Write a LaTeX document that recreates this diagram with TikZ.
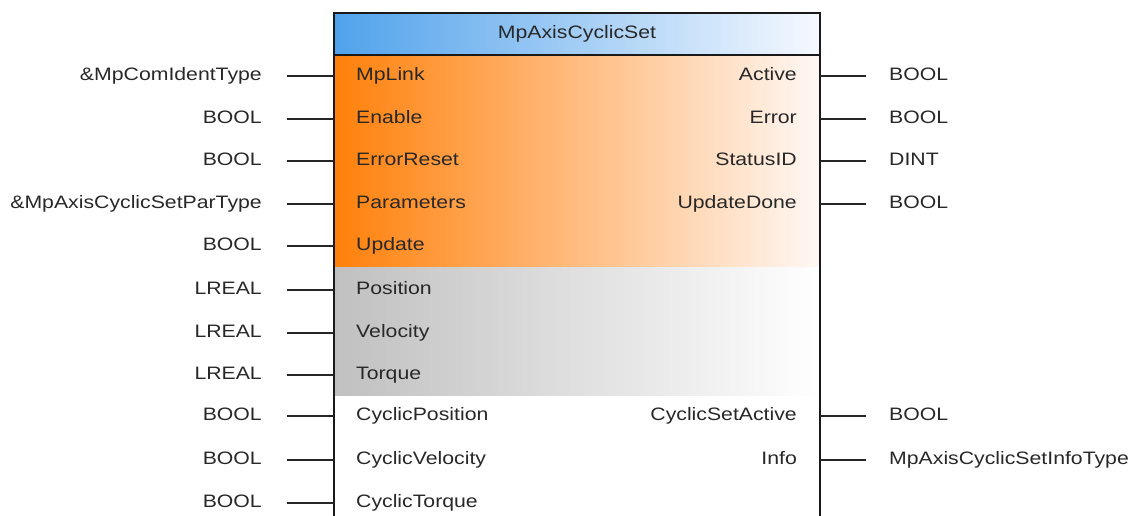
\documentclass[tikz,border=0pt]{standalone}
\usepackage{fontspec}
\setmainfont{Liberation Sans}[FakeStretch=1.18]
\usepackage{tikz}
\usetikzlibrary{positioning,calc}
\definecolor{PinText}{RGB}{40,40,40}
\definecolor{HeadBlue}{RGB}{80,162,235}
\definecolor{HeadPale}{RGB}{246,249,255}
\definecolor{InOrange}{RGB}{255,128,10}
\definecolor{InPeach}{RGB}{250,185,155}
\definecolor{InPale}{RGB}{255,248,245}
\definecolor{ParGray}{RGB}{192,192,192}
\tikzset{
  typelabel/.style={anchor=east,inner sep=0pt,text height=12.5pt,text depth=3.5pt,font=\fontsize{18}{20}\selectfont,text=PinText},
  outlabel/.style={anchor=west,inner sep=0pt,text height=12.5pt,text depth=3.5pt,font=\fontsize{18}{20}\selectfont,text=PinText},
  pinname/.style={inner sep=0pt,text height=12.5pt,text depth=3.5pt,font=\fontsize{18}{20}\selectfont,text=PinText},
  pinline/.style={line width=2pt,draw=black!85},
  blockedge/.style={line width=2pt,draw=black!90}
}
\begin{document}
\begin{tikzpicture}[x=1pt,y=-1pt]
\useasboundingbox (0,0) rectangle (1131,515);
\clip (0,0) rectangle (1131,515);
% block body
\fill[white] (334,13) rectangle (820,530);
\fill[left color=HeadBlue,right color=HeadPale] (334,13) rectangle (820,55);
\fill[left color=InOrange,middle color=InPeach,right color=InPale] (334,55) rectangle (820,267);
\fill[left color=ParGray,right color=white] (334,267) rectangle (820,395);
\draw[blockedge] (334,530) -- (334,13) -- (820,13) -- (820,530);
\draw[blockedge] (334,55) -- (820,55);
\node[pinname] (title) at (577,34) {MpAxisCyclicSet};
% inputs
\foreach \k/\y/\pin/\type in {0/76/MpLink/\&MpComIdentType,1/119/Enable/BOOL,2/161/ErrorReset/BOOL,
    3/204/Parameters/\&MpAxisCyclicSetParType,4/246/Update/BOOL,5/290/Position/LREAL,
    6/333/Velocity/LREAL,7/375/Torque/LREAL,8/416/CyclicPosition/BOOL,9/460/CyclicVelocity/BOOL,
    10/503/CyclicTorque/BOOL}{
  \node[pinname,anchor=west] (in\k) at (356,\y) {\pin};
  \coordinate (inl\k) at (334,\y);
  \node[typelabel] (tin\k) at (262,\y) {\type};
  \draw[pinline,shorten <=25pt] (tin\k) -- (inl\k);
}
% outputs
\foreach \k/\y/\pin/\type in {0/76/Active/BOOL,1/119/Error/BOOL,2/161/StatusID/DINT,3/204/UpdateDone/BOOL,
    8/416/CyclicSetActive/BOOL,9/460/Info/MpAxisCyclicSetInfoType}{
  \node[pinname,anchor=east] (out\k) at (797,\y) {\pin};
  \coordinate (outr\k) at (820,\y);
  \node[outlabel] (tout\k) at (889,\y) {\type};
  \draw[pinline,shorten >=23pt] (outr\k) -- (tout\k);
}
\end{tikzpicture}
\end{document}
